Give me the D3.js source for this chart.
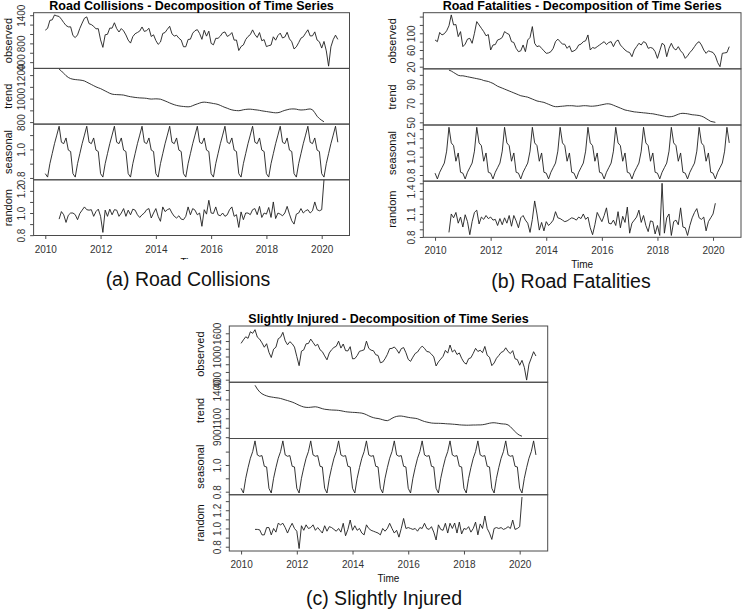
<!DOCTYPE html>
<html>
<head>
<meta charset="utf-8">
<script src="https://cdn.jsdelivr.net/npm/d3@7"></script>
<style>
  body { margin: 0; background: #fff; }
  text { font-family: "Liberation Sans", Arial, Helvetica, sans-serif; }
</style>
</head>
<body>
<svg id="fig" width="743" height="611"></svg>
<script>
// monthly series, Jan 2010 - Aug 2020; trend/random run Jul 2010 - Feb 2020
const xTicks = [2010, 2012, 2014, 2016, 2018, 2020]
const components = ['observed', 'trend', 'seasonal', 'random']

const collisionsObserved = [
  1081, 1120, 1290, 1300, 1405, 1385, 1373, 1314, 1243, 1181, 1151, 1152,
  967, 923, 981, 1119, 1232, 1335, 1364, 1217, 1200, 1163, 1109, 1113,
  874, 715, 983, 993, 1125, 1124, 1239, 1114, 1042, 1115, 1066, 979,
  869, 806, 944, 1005, 1032, 1062, 1149, 1054, 1073, 1121, 946, 982,
  861, 779, 828, 1011, 1032, 1101, 1164, 1003, 956, 972, 910, 870,
  728, 728, 883, 890, 1017, 1070, 1092, 1010, 886, 1079, 954, 1060,
  799, 769, 907, 907, 955, 1026, 1043, 948, 975, 1030, 869, 871,
  648, 733, 766, 881, 946, 986, 1087, 988, 925, 1030, 856, 880,
  731, 751, 764, 940, 868, 968, 1018, 914, 936, 1036, 896, 835,
  681, 726, 815, 911, 940, 1017, 1089, 958, 960, 1045, 871, 834,
  700, 841, 640, 315, 726, 880, 975, 885
]
const collisionsTrend = [
  1250, 1235, 1215, 1195, 1180, 1170,
  1165, 1162, 1160, 1158, 1155, 1150, 1140, 1130, 1120, 1110, 1100, 1092,
  1085, 1075, 1065, 1055, 1045, 1038, 1035, 1034, 1033, 1032, 1030, 1025,
  1020, 1016, 1013, 1010, 1008, 1006, 1005, 1004, 1002, 998, 996, 997,
  998, 997, 995, 988, 980, 972, 963, 955, 948, 942, 938, 935,
  933, 931, 930, 932, 940, 948, 955, 962, 968, 970, 968, 965,
  962, 958, 955, 950, 942, 933, 925, 918, 910, 904, 900, 898,
  897, 900, 905, 908, 910, 910, 908, 905, 903, 900, 896, 893,
  890, 887, 884, 881, 879, 880, 885, 893, 900, 905, 910, 912,
  912, 910, 905, 903, 904, 906, 910, 912, 905, 880, 850, 830,
  815, 803
]
const collisionsSeasonal = [0.83, 0.806, 0.90, 0.97, 1.04, 1.10, 1.162, 1.05, 1.04, 1.08, 0.995, 0.985]
const collisionsRandom = [
  0.945, 1.013, 0.984, 0.915, 0.98, 1.0,
  1.0, 0.985, 0.94, 0.996, 1.026, 1.055, 1.03, 1.026, 1.03, 0.97, 1.013, 1.035,
  0.97, 0.825, 1.026, 0.97, 1.035, 0.984, 1.03, 1.026, 0.97, 1.0, 1.04, 0.97,
  1.026, 0.984, 1.035, 1.026, 0.984, 0.96, 0.984, 1.0, 1.03, 1.04, 0.955, 1.0,
  1.04, 0.97, 0.925, 1.055, 1.013, 1.03, 1.04, 1.0, 0.97, 0.955, 0.975, 0.945,
  0.94, 0.97, 1.055, 0.984, 1.04, 1.026, 0.984, 1.0, 0.88, 1.03, 0.99, 1.115,
  1.0, 0.996, 1.055, 0.984, 0.975, 1.0, 0.97, 0.984, 1.03, 1.055, 0.97, 0.985,
  0.87, 1.01, 0.94, 1.0, 1.0, 0.985, 1.03, 1.04, 0.985, 1.06, 0.96, 1.0,
  0.99, 1.05, 0.96, 1.1, 0.95, 1.0, 0.99, 0.975, 1.0, 1.06, 0.99, 0.93,
  0.9, 0.99, 1.0, 1.04, 1.0, 1.02, 1.03, 1.0, 1.02, 1.1, 1.03, 1.02,
  1.03, 1.3
]

const fatalitiesObserved = [
  84, 80, 102, 96, 99, 106, 118, 144, 120, 121, 92, 104,
  68, 74, 86, 88, 76, 100, 128, 120, 112, 104, 94, 97,
  60, 72, 73, 84, 86, 90, 104, 100, 97, 80, 78, 64,
  56, 58, 72, 56, 84, 90, 116, 76, 68, 70, 64, 58,
  52, 53, 56, 64, 80, 86, 80, 74, 74, 64, 70, 56,
  58, 62, 72, 74, 80, 82, 96, 60, 66, 64, 68, 72,
  76, 80, 73, 78, 80, 68, 80, 84, 72, 66, 60, 56,
  54, 44, 60, 68, 76, 72, 80, 77, 64, 66, 64, 56,
  40, 58, 76, 72, 44, 64, 76, 64, 60, 68, 58, 52,
  40, 46, 54, 60, 68, 76, 80, 72, 60, 52, 58, 56,
  54, 46, 30, 20, 52, 53, 54, 68
]
const fatalitiesTrend = [
  105, 104, 102.5, 101, 99.5, 99,
  99, 98.5, 98, 97.5, 97, 96.5, 96, 95.5, 95, 94, 93.5, 93,
  92, 91, 89.5, 88, 87, 86, 85, 84, 83, 82, 81, 80,
  79, 78, 77.5, 77, 76.5, 75.5, 74.5, 73.5, 72.5, 72, 71.5, 71,
  70, 69, 68, 67, 66.5, 66.5, 66.8, 67, 67.2, 67.5, 67.5, 67.5,
  67.3, 67, 67, 67.2, 67.5, 67.5, 67.3, 67, 67, 67.2, 67.5, 68,
  68.5, 69, 69.5, 69.5, 69, 68, 67, 66, 65, 64, 63, 62.5,
  62, 61.5, 61, 60.8, 60.5, 60.3, 60, 59.8, 59.5, 59.2, 59, 58.5,
  58, 57.5, 57, 56.5, 56, 55.8, 56, 56.5, 57.5, 58.5, 59.3, 59.5,
  59.3, 59, 58.5, 58, 57.8, 57.5, 57.2, 56.5, 55.5, 54, 52.5, 51,
  50.5, 50
]
const fatalitiesSeasonal = [0.82, 0.757, 0.83, 0.88, 0.93, 1.06, 1.32, 1.15, 1.12, 0.95, 1.04, 0.83]
const fatalitiesRandom = [
  0.86, 1.10, 1.05, 1.12, 0.98, 1.06,
  0.93, 1.09, 1.0, 0.83, 1.0, 1.12, 1.15, 0.97, 1.06, 1.03, 1.08, 1.04,
  1.06, 1.02, 1.03, 0.95, 1.04, 0.96, 1.05, 0.98, 1.08, 0.94, 1.08, 1.01,
  0.92, 1.05, 1.08, 1.02, 0.98, 0.86, 1.03, 1.27, 1.1, 0.89, 0.99, 0.88,
  1.0, 0.95, 0.98, 1.02, 1.13, 1.05, 1.04, 1.02, 1.0, 1.01, 1.03, 1.05,
  1.04, 1.02, 1.06, 1.04, 1.1, 1.03, 1.06, 0.92, 0.83, 0.96, 1.12, 1.06,
  1.0, 1.08, 1.18, 0.98, 0.97, 1.02, 0.95, 1.13, 0.92, 1.07, 0.99, 1.19,
  0.85, 0.98, 1.02, 1.06, 1.15, 0.99, 1.08, 0.95, 0.87, 1.01, 1.0, 0.84,
  0.95, 0.82, 1.50, 0.85, 1.05, 1.1, 0.82, 1.0, 1.02, 0.96, 1.18, 0.93,
  0.92, 0.82, 0.95, 1.05, 1.12, 1.17, 1.05, 1.03, 1.06, 0.88, 1.0, 1.05,
  1.1, 1.24
]

const injuredObserved = [
  1340, 1430, 1510, 1470, 1640, 1600, 1694, 1501, 1448, 1353, 1240, 1331,
  1108, 974, 1190, 1240, 1459, 1499, 1625, 1406, 1303, 1383, 1331, 1243,
  1000, 763, 1138, 1172, 1328, 1337, 1450, 1364, 1275, 1316, 1174, 1125,
  1016, 914, 1092, 1176, 1234, 1265, 1397, 1218, 1323, 1152, 1144, 1254,
  940, 946, 1023, 1135, 1152, 1174, 1397, 1211, 1164, 1149, 1046, 1027,
  838, 857, 941, 1054, 1204, 1210, 1247, 1180, 1083, 1203, 1231, 1098,
  925, 874, 983, 1078, 1115, 1205, 1269, 1211, 1129, 1118, 1060, 991,
  755, 860, 932, 1004, 1158, 1088, 1297, 1116, 1170, 1051, 1092, 953,
  848, 803, 943, 967, 1081, 1211, 1130, 1163, 1099, 1260, 1032, 981,
  764, 832, 954, 1025, 1105, 1133, 1225, 1129, 1077, 1152, 941, 921,
  774, 900, 720, 390, 800, 960, 1124, 1013
]
const injuredTrend = [
  1450, 1410, 1380, 1360, 1347, 1338,
  1330, 1326, 1322, 1318, 1315, 1310, 1303, 1295, 1288, 1280, 1272, 1262,
  1250, 1238, 1228, 1220, 1216, 1215, 1217, 1220, 1222, 1218, 1210, 1202,
  1196, 1193, 1190, 1188, 1187, 1186, 1184, 1180, 1175, 1170, 1167, 1165,
  1163, 1162, 1160, 1158, 1155, 1148, 1138, 1126, 1115, 1107, 1101, 1098,
  1092, 1085, 1078, 1075, 1085, 1100, 1112, 1120, 1124, 1124, 1120, 1115,
  1110, 1106, 1103, 1100, 1095, 1085, 1075, 1066, 1060, 1055, 1050, 1048,
  1047, 1047, 1046, 1045, 1043, 1041, 1040, 1038, 1036, 1034, 1031, 1029,
  1028, 1027, 1027, 1028, 1029, 1029, 1030, 1030, 1032, 1036, 1042, 1048,
  1052, 1053, 1050, 1046, 1042, 1040, 1038, 1030, 1011, 985, 960, 935,
  920, 910
]
const injuredSeasonal = [0.825, 0.79, 0.90, 0.98, 1.05, 1.10, 1.18, 1.075, 1.065, 1.07, 0.99, 0.985]
const injuredRandom = [
  0.99, 0.99, 0.985, 0.93, 0.93, 1.01,
  1.01, 0.93, 1.0, 0.96, 1.057, 1.04, 1.057, 1.01, 0.95, 1.01, 1.057, 1.0,
  0.97, 0.78, 1.03, 0.98, 1.04, 1.0, 1.01, 1.04, 0.98, 1.01, 0.98, 0.95,
  1.03, 0.97, 1.02, 1.01, 0.99, 0.97, 1.0, 0.96, 1.057, 0.92, 0.99, 1.093,
  0.98, 1.03, 0.98, 1.0, 0.95, 0.93, 1.04, 1.0, 0.98, 0.97, 0.96, 0.95,
  0.93, 1.0, 0.97, 1.0, 1.057, 1.0, 0.95, 0.98, 0.905, 1.0, 1.11, 1.0,
  1.01, 1.0, 0.99, 1.0, 0.97, 1.01, 1.0, 1.057, 1.0, 0.99, 1.02, 0.96,
  0.874, 1.04, 0.99, 0.98, 1.057, 0.95, 1.057, 1.0, 1.06, 0.95, 1.07, 0.94,
  1.0, 0.99, 1.02, 0.96, 1.0, 1.07, 0.93, 1.05, 1.0, 1.137, 1.0, 0.95,
  0.88, 1.0, 1.01, 1.0, 1.01, 0.99, 1.0, 1.02, 1.0, 1.093, 0.99, 1.0,
  1.02, 1.345
]

// y ticks (all marks) and the ones R managed to label
const collisionsTicks = [[400, 600, 800, 1000, 1200, 1400], [800, 900, 1000, 1100, 1200], [0.8, 0.9, 1.0, 1.1], [0.8, 0.9, 1.0, 1.1, 1.2]]
const collisionsLabels = [[400, 800, 1400], [800, 1000, 1200], [0.8, 1.0], [0.8, 1.0, 1.2]]
const fatalitiesTicks = [[20, 40, 60, 80, 100, 120, 140], [50, 60, 70, 80, 90, 100], [0.8, 0.9, 1.0, 1.1, 1.2, 1.3], [0.8, 0.9, 1.0, 1.1, 1.2, 1.3, 1.4, 1.5]]
const fatalitiesLabels = [[20, 60, 100], [50, 70, 90], [0.8, 1.0, 1.2], [0.8, 1.1, 1.4]]
const injuredTicks = [[400, 600, 800, 1000, 1200, 1400, 1600], [900, 1000, 1100, 1200, 1300, 1400], [0.8, 0.9, 1.0, 1.1], [0.8, 0.9, 1.0, 1.1, 1.2, 1.3]]
const injuredLabels = [[400, 1000, 1600], [900, 1100, 1400], [0.8, 1.0], [0.8, 1.0, 1.2]]

var figures = [
  {
    title: 'Road Collisions - Decomposition of Time Series', caption: '(a) Road Collisions',
    series: [collisionsObserved, collisionsTrend, collisionsSeasonal, collisionsRandom],
    ticks: collisionsTicks, labels: collisionsLabels,
    domains: [[267, 1453], [783, 1257], [0.787, 1.177], [0.797, 1.30]],
    box: { x0: 33.6, x1: 349.5, y0: 12.7, y1: 235.5 },
    yTitleX: 8, timeY: 266, captionX: 188, captionY: 286, clip: 260
  },
  {
    title: 'Road Fatalities - Decomposition of Time Series', caption: '(b) Road Fatalities',
    series: [fatalitiesObserved, fatalitiesTrend, fatalitiesSeasonal, fatalitiesRandom],
    ticks: fatalitiesTicks, labels: fatalitiesLabels,
    domains: [[14.85, 149.3], [47.2, 106.3], [0.733, 1.345], [0.796, 1.528]],
    box: { x0: 423.3, x1: 741, y0: 12.7, y1: 237.3 },
    yTitleX: 392, timeY: 268, captionX: 571, captionY: 288, clip: null
  },
  {
    title: 'Slightly Injured - Decomposition of Time Series', caption: '(c) Slightly Injured',
    series: [injuredObserved, injuredTrend, injuredSeasonal, injuredRandom],
    ticks: injuredTicks, labels: injuredLabels,
    domains: [[334, 1789], [886, 1482], [0.777, 1.198], [0.753, 1.37]],
    box: { x0: 229.3, x1: 547.7, y0: 326, y1: 551 },
    yTitleX: 200, timeY: 582, captionX: 384, captionY: 605, clip: null
  }
]

var svg = d3.select('#fig')
svg.append('rect').attr('width', 743).attr('height', 611).attr('fill', '#fff')

var monthTime = (i) => 2010 + i / 12
var fmt = (d) => Number.isInteger(d) && d >= 10 ? String(d) : d3.format('.1f')(d)

figures.forEach((f, fi) => {
  var g = svg.append('g')
  if (f.clip) {
    svg.append('clipPath').attr('id', 'clip' + fi)
      .append('rect').attr('x', 0).attr('y', 0).attr('width', 372).attr('height', f.clip)
    g.attr('clip-path', `url(#clip${fi})`)
  }

  var x = d3.scaleLinear().domain([2009.577, 2021.006]).range([f.box.x0, f.box.x1])
  var ph = (f.box.y1 - f.box.y0) / 4
  var nObs = f.series[0].length

  components.forEach((name, k) => {
    var top = f.box.y0 + k * ph, bottom = top + ph
    var y = d3.scaleLinear().domain(f.domains[k]).range([bottom, top])

    // seasonal component is its twelve monthly figures repeated over the span
    var values = k === 2 ? d3.range(nObs).map((i) => f.series[2][i % 12]) : f.series[k]
    var offset = (k === 1 || k === 3) ? 6 : 0

    var line = d3.line()
      .x((d, i) => x(monthTime(i + offset)))
      .y((d) => y(d))

    g.append('path')
      .datum(values)
      .attr('d', line)
      .attr('fill', 'none')
      .attr('stroke', '#1e1e1e')
      .attr('stroke-width', 0.9)

    g.append('rect')
      .attr('x', f.box.x0).attr('y', top)
      .attr('width', f.box.x1 - f.box.x0).attr('height', ph)
      .attr('fill', 'none').attr('stroke', '#4a4a4a').attr('stroke-width', 1)

    var labels = f.labels[k]
    var ax = g.append('g')
      .attr('transform', `translate(${f.box.x0},0)`)
      .attr('font-family', null).attr('font-size', 7)
      .call(d3.axisLeft(y).tickValues(f.ticks[k]).tickSize(3.5)
        .tickFormat((d) => labels.includes(d) ? fmt(d) : ''))
    ax.select('.domain').remove()
    ax.selectAll('line').attr('stroke', '#4a4a4a')
    ax.selectAll('text')
      .attr('x', 0).attr('dy', 0)
      .attr('fill', '#333')
      .attr('text-anchor', 'middle')
      .attr('transform', 'translate(-8.6,0) rotate(-90)')

    g.append('text')
      .attr('transform', `translate(${f.yTitleX + 4},${(top + bottom) / 2}) rotate(-90)`)
      .attr('text-anchor', 'middle')
      .attr('font-size', 11)
      .attr('fill', '#111')
      .text(name)
  })

  var xa = g.append('g')
    .attr('transform', `translate(0,${f.box.y1})`)
    .attr('font-family', null).attr('font-size', 7)
    .call(d3.axisBottom(x).tickValues(xTicks).tickSize(3.5).tickPadding(6.5).tickFormat(d3.format('d')))
  xa.select('.domain').remove()
  xa.selectAll('line').attr('stroke', '#4a4a4a')
  xa.selectAll('text').attr('fill', '#333')

  var cx = (f.box.x0 + f.box.x1) / 2
  g.append('text')
    .attr('x', cx).attr('y', f.timeY)
    .attr('text-anchor', 'middle').attr('font-size', 10).attr('fill', '#111')
    .text('Time')

  g.append('text')
    .attr('x', cx).attr('y', f.box.y0 - 2.6)
    .attr('text-anchor', 'middle').attr('font-size', 12.5).attr('font-weight', 'bold')
    .text(f.title)

  svg.append('text')
    .attr('x', f.captionX).attr('y', f.captionY)
    .attr('text-anchor', 'middle').attr('font-size', 19.5).attr('fill', '#111')
    .text(f.caption)
})
</script>
</body>
</html>
